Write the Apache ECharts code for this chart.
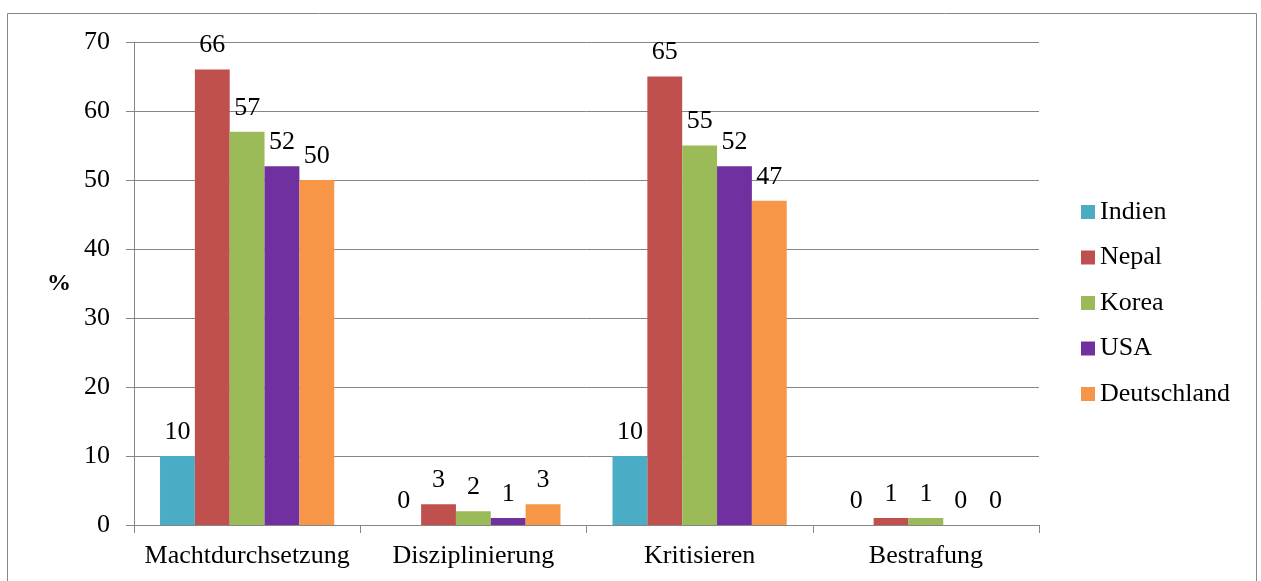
<!DOCTYPE html>
<html>
<head>
<meta charset="utf-8">
<script src="https://cdn.jsdelivr.net/npm/echarts@6/dist/echarts.min.js"></script>
<style>
  html, body { margin: 0; padding: 0; background: #fff; }
  #chart { width: 1261px; height: 581px; }
</style>
</head>
<body>
<div id="chart"></div>
<script>
// Kategorien und Werte (%) je Land
const categories = ['Machtdurchsetzung', 'Disziplinierung', 'Kritisieren', 'Bestrafung'];
const countries = ['Indien', 'Nepal', 'Korea', 'USA', 'Deutschland'];
const indien = [10, 0, 10, 0];
const nepal = [66, 3, 65, 1];
const korea = [57, 2, 55, 1];
const usa = [52, 1, 52, 0];
const deutschland = [50, 3, 47, 0];
const yTicks = [0, 10, 20, 30, 40, 50, 60, 70];

const colors = ['#4BACC6', '#C0504D', '#9BBB59', '#7030A0', '#F79646'];
const seriesValues = [indien, nepal, korea, usa, deutschland];
const font = "'Liberation Serif', 'Times New Roman', serif";
const fs = 26;

const chart = echarts.init(document.getElementById('chart'));
chart.setOption({
  animation: false,
  textStyle: { fontFamily: font, color: '#000' },
  graphic: [{
    type: 'rect',
    shape: { x: 7.5, y: 13.5, width: 1249, height: 620 },
    style: { fill: 'none', stroke: '#868686', lineWidth: 1 },
    silent: true
  }],
  grid: { left: 134, right: 222, top: 42, bottom: 56 },
  legend: {
    orient: 'vertical',
    left: 1081,
    top: 199,
    padding: 0,
    itemWidth: 14,
    itemHeight: 14,
    itemGap: 19.5,
    icon: 'rect',
    textStyle: { fontFamily: font, fontSize: fs, color: '#000' },
    data: countries
  },
  xAxis: {
    type: 'category',
    data: categories,
    axisLine: { lineStyle: { color: '#868686', width: 1 } },
    axisTick: { show: true, length: 8, lineStyle: { color: '#868686' } },
    axisLabel: { fontFamily: font, fontSize: fs, color: '#000', margin: 18, interval: 0 }
  },
  yAxis: {
    type: 'value',
    min: 0,
    max: 70,
    interval: 10,
    name: '%',
    nameLocation: 'middle',
    nameGap: 63,
    nameRotate: 0,
    nameTextStyle: { fontFamily: font, fontSize: 24, fontWeight: 'bold', color: '#000', padding: [8, 0, 0, 0] },
    axisLine: { show: true, lineStyle: { color: '#868686', width: 1 } },
    axisTick: { show: true, length: 8, lineStyle: { color: '#868686' } },
    axisLabel: {
      fontFamily: font, fontSize: fs, color: '#000', margin: 24,
      formatter: v => yTicks.includes(v) ? String(v) : ''
    },
    splitLine: { lineStyle: { color: '#868686', width: 1 } }
  },
  series: countries.map((name, i) => ({
    name: name,
    type: 'bar',
    data: seriesValues[i],
    barGap: '0%',
    barCategoryGap: '23%',
    itemStyle: { color: colors[i] },
    label: {
      show: true,
      position: 'top',
      distance: 11,
      fontFamily: font,
      fontSize: fs,
      color: '#000'
    }
  }))
});
</script>
</body>
</html>
